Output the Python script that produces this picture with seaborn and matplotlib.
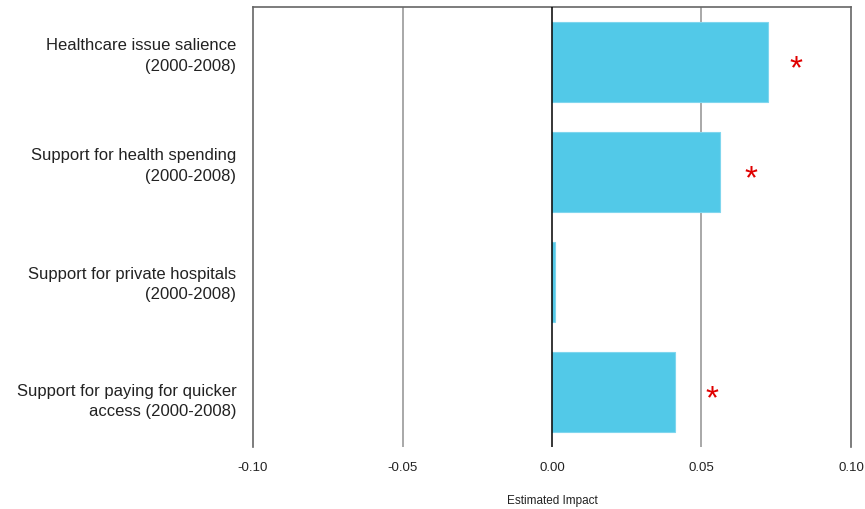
import pandas as pd
import numpy as np
import matplotlib
matplotlib.use('Agg')
import matplotlib.pyplot as plt
import matplotlib.transforms as mtransforms
import seaborn as sns

# data
labels = ['Healthcare issue salience\n(2000-2008)',
          'Support for health spending\n(2000-2008)',
          'Support for private hospitals\n(2000-2008)',
          'Support for paying for quicker\naccess (2000-2008)']
impact = [0.0722, 0.0562, 0.0010, 0.0411]
# where the significance stars sit (x in data units), None = not significant
star_x = [0.0816, 0.0666, None, 0.0535]

df = pd.DataFrame({'label': labels, 'impact': impact})

sns.set_style('white')
plt.rcParams['font.family'] = ['Liberation Sans', 'DejaVu Sans']

fig = plt.figure(figsize=(8.65, 5.1), dpi=100)
ax = fig.add_axes([0.2925, 0.1216, 0.6913, 0.8627])

sns.barplot(data=df, y='label', x='impact', orient='h', color='#52c9e8',
            saturation=1, width=0.72, edgecolor='#7fd6ee', linewidth=0.8, ax=ax)

# vertical grid lines
for xv in [-0.05, 0.05]:
    ax.axvline(xv, color='#999999', linewidth=1.2, zorder=0)
ax.axvline(0, color='black', linewidth=1.1, zorder=3)

for i, sx in enumerate(star_x):
    if sx is not None:
        ax.text(sx, i + 0.06, '*', color='#e00000', fontsize=24,
                ha='center', va='center')

ax.set_xlim(-0.10, 0.10)
ax.set_ylim(3.5, -0.5)
ax.set_xticks([-0.10, -0.05, 0.00, 0.05, 0.10])
ax.set_xticklabels(['-0.10', '-0.05', '0.00', '0.05', '0.10'])
ax.tick_params(axis='x', length=0, pad=10, labelsize=9.5, labelcolor='#222222')
ax.tick_params(axis='y', length=0, pad=12, labelsize=12, labelcolor='#222222')
# the labels in the original are not exactly centred on the bars
nudges = [8, 8, 2, -3]
for t, dy in zip(ax.get_yticklabels(), nudges):
    t.set_horizontalalignment('right')
    t.set_linespacing(1.45)
    t.set_transform(t.get_transform() + mtransforms.ScaledTranslation(0, dy / 72, fig.dpi_scale_trans))
ax.set_ylabel('')
ax.set_xlabel('Estimated Impact', fontsize=8.5, labelpad=15, color='#222222')

ax.spines['bottom'].set_visible(False)
for s in ['left', 'right', 'top']:
    ax.spines[s].set_color('#666666')
    ax.spines[s].set_linewidth(1.2)

fig.savefig('out.png', dpi=100)
